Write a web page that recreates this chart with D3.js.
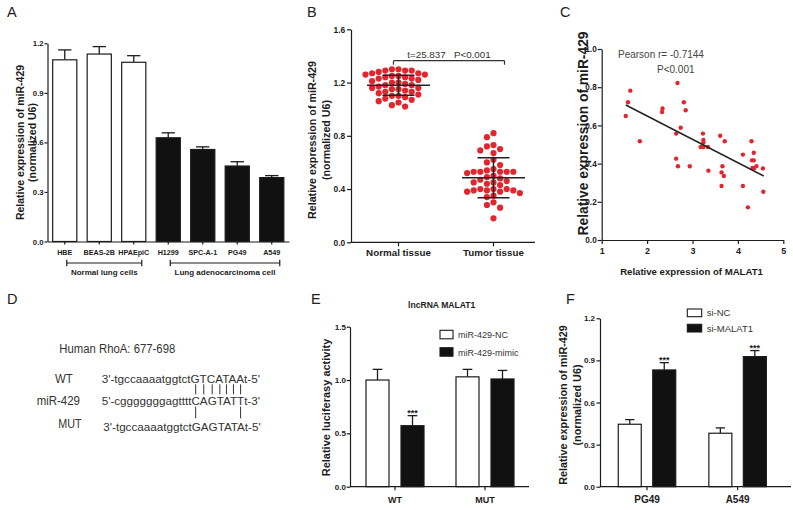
<!DOCTYPE html>
<html><head><meta charset="utf-8">
<script src="https://cdn.jsdelivr.net/npm/d3@7"></script>
<style>body{margin:0;background:#fff}svg{display:block}</style>
</head><body>
<svg id="chart" width="793" height="510"></svg>
<script>
// ---------------- DATA ----------------
// Panel A
const cellLinesA = ["HBE","BEAS-2B","HPAEpiC","H1299","SPC-A-1","PG49","A549"];
const exprA = [1.100, 1.135, 1.085, 0.628, 0.557, 0.457, 0.387];
const errA  = [0.060, 0.045, 0.040, 0.030, 0.016, 0.026, 0.012];
const tumorA = [false,false,false,true,true,true,true];
const groupLabelsA = ["Normal lung cells","Lung adenocarcinoma cell"];
const groupFirstA = ["HBE","H1299"];
const groupLastA  = ["HPAEpiC","A549"];
const yTicksA = [0,0.3,0.6,0.9,1.2];

// Panel B
const tissuesB = ["Normal tissue","Tumor tissue"];
const normalB = [1.30,1.30,1.29,1.29,1.29,1.28,1.27,1.27,1.26,1.26,1.25,1.25,1.24,1.24,1.23,1.23,1.22,1.21,1.20,1.20,1.19,1.18,1.18,1.17,1.16,1.16,1.15,1.15,1.14,1.13,1.13,1.12,1.11,1.10,1.10,1.09,1.08,1.07,1.06,1.05,1.03,1.02];
const tumorB = [0.82,0.79,0.73,0.72,0.70,0.69,0.67,0.62,0.60,0.58,0.55,0.54,0.53,0.53,0.53,0.53,0.53,0.52,0.50,0.49,0.48,0.47,0.46,0.45,0.45,0.44,0.43,0.40,0.40,0.40,0.39,0.39,0.39,0.38,0.38,0.37,0.35,0.34,0.30,0.28,0.26,0.18];
const meanB = [1.18, 0.485];
const sdB = [0.075, 0.15];
const yTicksB = [0,0.4,0.8,1.2,1.6];
const statB = "t=25.837   P<0.001";
const statLevelB = 1.364;

// Panel C
const malat1C = [1.53,1.58,1.63,1.84,2.33,2.34,2.67,2.81,2.85,2.74,2.64,2.64,2.68,2.94,3.23,3.24,3.24,3.18,3.24,3.34,3.35,3.61,3.71,3.66,3.64,3.69,3.64,4.11,4.11,4.22,4.30,4.35,4.31,4.35,4.32,4.36,4.41,4.55,4.56];
const mir429C = [0.649,0.721,0.782,0.517,0.670,0.689,0.822,0.721,0.679,0.588,0.557,0.426,0.386,0.386,0.557,0.524,0.510,0.487,0.487,0.487,0.363,0.546,0.517,0.386,0.354,0.335,0.283,0.447,0.283,0.171,0.517,0.457,0.417,0.417,0.377,0.377,0.387,0.375,0.253];
const fitXC = [1.53, 4.57];
const fitYC = [0.707, 0.335];
const xTicksC = [1,2,3,4,5];
const yTicksC = [0,0.2,0.4,0.6,0.8,1.0];
const statC = ["Pearson r= -0.7144","P<0.001"];

// Panel D
const titleD = "Human RhoA: 677-698";
const seqLabelsD = ["WT","miR-429","MUT"];
const seqsD = ["3'-tgccaaaatggtctGTCATAAt-5'","5'-cgggggggagttttCAGTATTt-3'","3'-tgccaaaatggtctGAGTATAt-5'"];
const pairsUpperD = [17,18,19,20,21,22,23];
const pairsLowerD = [17,23];

// Panel E
const titleE = "lncRNA MALAT1";
const constructsE = ["WT","MUT"];
const seriesE = ["miR-429-NC","miR-429-mimic"];
const ncE = [1.00, 1.03];
const ncErrE = [0.10, 0.07];
const mimicE = [0.572, 1.01];
const mimicErrE = [0.094, 0.08];
const sigE = ["***",""];
const yTicksE = [0,0.5,1.0,1.5];

// Panel F
const cellsF = ["PG49","A549"];
const seriesF = ["si-NC","si-MALAT1"];
const siNCF = [0.445, 0.381];
const siNCErrF = [0.033, 0.038];
const siMalatF = [0.832, 0.927];
const siMalatErrF = [0.052, 0.043];
const sigF = ["***","***"];
const yTicksF = [0,0.3,0.6,0.9,1.2];

// ---------------- DRAWING ----------------
const FONT = "'Liberation Sans', Arial, Helvetica, sans-serif";
const INK = "#1c1c1c";
const RED = "#e3262d";
const svg = d3.select("#chart");
svg.append("rect").attr("width",793).attr("height",510).attr("fill","#fff");

function styleAxis(a, fs){
  a.attr("font-family",FONT).attr("font-size",fs);
  a.select(".domain").attr("stroke",INK).attr("stroke-width",1.2);
  a.selectAll(".tick line").attr("stroke",INK).attr("stroke-width",1.2);
  a.selectAll(".tick text").attr("fill",INK).attr("font-weight","bold");
}
function yAxis(scale, x, ticks, fs, k, p, fmt){
  const a = svg.append("g").attr("transform",`translate(${x},0)`)
    .call(d3.axisLeft(scale).tickValues(ticks).tickFormat(fmt||d3.format(".1f")).tickSize(k).tickPadding(p).tickSizeOuter(0));
  styleAxis(a, fs); return a;
}
function xAxis(axis, y, fs, k, p, x0, x1){
  const a = svg.append("g").attr("transform",`translate(0,${y})`)
    .call(axis.tickSize(k).tickPadding(p).tickSizeOuter(0));
  styleAxis(a, fs);
  if (x0 !== undefined){
    a.select(".domain").remove();
    a.append("line").attr("x1",x0).attr("x2",x1).attr("stroke",INK).attr("stroke-width",1.2);
  }
  return a;
}
function text(x,y,str,fs,opts){
  opts = opts||{};
  const t = svg.append("text").attr("x",x).attr("y",y).text(str)
    .attr("font-family",FONT).attr("font-size",fs)
    .attr("fill",opts.fill||INK)
    .attr("font-weight",opts.bold?"bold":"normal")
    .attr("text-anchor",opts.anchor||"start");
  if (opts.len) t.attr("textLength",opts.len).attr("lengthAdjust","spacingAndGlyphs");
  if (opts.pre) t.style("white-space","pre");
  return t;
}
function yTitle(x, cy, str, fs){
  svg.append("text").attr("transform",`translate(${x},${cy}) rotate(-90)`)
    .attr("dy","0.35em").attr("text-anchor","middle")
    .attr("font-family",FONT).attr("font-size",fs).attr("font-weight","bold")
    .attr("fill",INK).text(str);
}
function errBar(cx, y0, y1, cap){
  svg.append("line").attr("x1",cx).attr("x2",cx).attr("y1",y0).attr("y2",y1)
    .attr("stroke",INK).attr("stroke-width",1.3);
  svg.append("line").attr("x1",cx-cap/2).attr("x2",cx+cap/2).attr("y1",y1).attr("y2",y1)
    .attr("stroke",INK).attr("stroke-width",1.3);
}

// Panel letters
[["A",7,17],["B",307,17],["C",560,17],["D",7,304],["E",311,304],["F",566,304]].forEach(d=>
  text(d[1],d[2],d[0],14.5,{fill:"#222"}));

// ---------- Panel A ----------
const xA = d3.scaleBand().domain(cellLinesA).range([47.5,289]).paddingInner(0.3).paddingOuter(0.15);
const yA = d3.scaleLinear().domain([0,1.2]).range([241.5,43.3]);
cellLinesA.forEach((c,i)=>{
  const cx = xA(c)+xA.bandwidth()/2;
  errBar(cx, yA(exprA[i]), yA(exprA[i]+errA[i]), xA.bandwidth()*0.55);
  svg.append("rect").attr("x",xA(c)).attr("y",yA(exprA[i])).attr("width",xA.bandwidth())
    .attr("height",yA(0)-yA(exprA[i])).attr("fill",tumorA[i]?"#111":"#fff")
    .attr("stroke",INK).attr("stroke-width",1.2);
});
yAxis(yA, 47.5, yTicksA, 7.8, 3, 0.8);
xAxis(d3.axisBottom(xA), 241.5, 7.2, 3, 4.9);
groupLabelsA.forEach((lab,i)=>{
  const x0 = xA(groupFirstA[i])+xA.bandwidth()/2+2;
  const x1 = xA(groupLastA[i])+xA.bandwidth()/2+8;
  const y = 263;
  svg.append("line").attr("x1",x0).attr("x2",x1).attr("y1",y).attr("y2",y).attr("stroke",INK).attr("stroke-width",1.2);
  [x0,x1].forEach(x=>svg.append("line").attr("x1",x).attr("x2",x).attr("y1",y-3.3).attr("y2",y+3.3).attr("stroke",INK).attr("stroke-width",1.2));
  text((x0+x1)/2, 275, lab, 8, {bold:true, anchor:"middle"});
});
yTitle(20, 142.5, "Relative expression of miR-429", 10.5);
yTitle(32, 142.5, "(normalized U6)", 10.5);

// ---------- Panel B ----------
const xB = d3.scaleBand().domain(tissuesB).range([351,541]);
const yB = d3.scaleLinear().domain([0,1.6]).range([242.3,29.3]);
function swarm(values, cx, r, step){
  const placed=[];
  values.slice().sort((a,b)=>b-a).forEach(v=>{
    const y = yB(v);
    for(let i=0;i<60;i++){
      const x = cx + (i%2===0?1:-1)*Math.ceil(i/2)*step;
      if (placed.every(p=>Math.hypot(p.x-x,p.y-y) >= 2*r+0.2)){ placed.push({x,y}); break; }
    }
  });
  return placed;
}
[normalB, tumorB].forEach((vals,i)=>{
  const cx = xB(tissuesB[i]) + xB.bandwidth()/2;
  svg.append("g").selectAll("circle").data(swarm(vals,cx,3.1,6.6)).join("circle")
    .attr("cx",d=>d.x).attr("cy",d=>d.y).attr("r",3.1).attr("fill",RED);
  const m = meanB[i], s = sdB[i];
  const L = (x1,x2,y1,y2)=>svg.append("line").attr("x1",x1).attr("x2",x2).attr("y1",y1).attr("y2",y2).attr("stroke","#222").attr("stroke-width",1.5);
  L(cx-31.5,cx+31.5,yB(m),yB(m));
  L(cx-16,cx+16,yB(m+s),yB(m+s));
  L(cx-16,cx+16,yB(m-s),yB(m-s));
  L(cx,cx,yB(m+s),yB(m-s));
});
yAxis(yB, 351, yTicksB, 8.4, 4, 1.8);
xAxis(d3.axisBottom(xB), 242.3, 9.8, 4, 2.7, 351, 535);
{
  const x0 = xB(tissuesB[0])+xB.bandwidth()/2-5, x1 = xB(tissuesB[1])+xB.bandwidth()/2+11;
  const y = yB(statLevelB);
  svg.append("line").attr("x1",x0).attr("x2",x1).attr("y1",y).attr("y2",y).attr("stroke","#333").attr("stroke-width",1.2);
  [x0,x1].forEach(x=>svg.append("line").attr("x1",x).attr("x2",x).attr("y1",y).attr("y2",y+4).attr("stroke","#333").attr("stroke-width",1.2));
  text((x0+x1)/2, y-2.5, statB, 9.8, {anchor:"middle", pre:true, fill:"#333"});
}
yTitle(312, 140, "Relative expression of miR-429", 10.7);
yTitle(326, 140, "(normalized U6)", 10.7);

// ---------- Panel C ----------
const xC = d3.scaleLinear().domain([1,5]).range([601.7,783.3]);
const yC = d3.scaleLinear().domain([0,1]).range([240,49]);
svg.append("g").selectAll("circle").data(malat1C).join("circle")
  .attr("cx",d=>xC(d)).attr("cy",(d,i)=>yC(mir429C[i])).attr("r",2.2).attr("fill",RED);
svg.append("line").attr("x1",xC(fitXC[0])).attr("x2",xC(fitXC[1]))
  .attr("y1",yC(fitYC[0])).attr("y2",yC(fitYC[1])).attr("stroke","#222").attr("stroke-width",1.5);
yAxis(yC, 601.7, yTicksC, 8.2, 4, 1);
xAxis(d3.axisBottom(xC).tickValues(xTicksC).tickFormat(d3.format("d")), 240, 9, 4, 3.6);
text(618, 57.5, statC[0], 10, {fill:"#444"});
text(657, 72.5, statC[1], 10, {fill:"#444"});
yTitle(583, 133.5, "Relative expression of miR-429", 13.8);
text(691.5, 274.5, "Relative expression of MALAT1", 9.6, {bold:true, anchor:"middle"});

// ---------- Panel D ----------
const DC = "#333";
text(59.3, 352.7, titleD, 12.5, {fill:DC, len:116});
text(55, 382.5, seqLabelsD[0], 12, {fill:DC, len:17.7});
text(36.7, 404.8, seqLabelsD[1], 12, {fill:DC, len:43.3});
text(58.3, 427.5, seqLabelsD[2], 12, {fill:DC, len:23.3});
text(101.7, 382.7, seqsD[0], 11.5, {fill:DC, len:158.3});
const mirNode = text(101.7, 404.8, seqsD[1], 11.5, {fill:DC, len:158.3}).node();
text(103.3, 431.3, seqsD[2], 11.5, {fill:DC, len:157.4});
function charCenter(i){ const e = mirNode.getExtentOfChar(i); return e.x + e.width/2; }
pairsUpperD.forEach(i=>{ const x = charCenter(i);
  svg.append("line").attr("x1",x).attr("x2",x).attr("y1",384.3).attr("y2",394.3).attr("stroke",DC).attr("stroke-width",1); });
pairsLowerD.forEach(i=>{ const x = charCenter(i);
  svg.append("line").attr("x1",x).attr("x2",x).attr("y1",406.7).attr("y2",418.3).attr("stroke",DC).attr("stroke-width",1); });

// ---------- grouped bars helper ----------
function grouped(groups, series, vals, errs, sig, xOuter, yS, innerPadI, innerPadO, capFrac){
  const xi = d3.scaleBand().domain(series).range([0,xOuter.bandwidth()]).paddingInner(innerPadI).paddingOuter(innerPadO);
  groups.forEach((g,gi)=>{
    series.forEach((s,si)=>{
      const v = vals[si][gi], e = errs[si][gi];
      const x = xOuter(g)+xi(s), cx = x+xi.bandwidth()/2;
      errBar(cx, yS(v), yS(v+e), xi.bandwidth()*capFrac);
      svg.append("rect").attr("x",x).attr("y",yS(v)).attr("width",xi.bandwidth()).attr("height",yS(0)-yS(v))
        .attr("fill",si===0?"#fff":"#111").attr("stroke",INK).attr("stroke-width",1.2);
      if (si===1 && sig[gi]) text(cx, yS(v+e)+0.8, sig[gi], 9, {bold:true, anchor:"middle"});
    });
  });
}
function legend(x, ys, labels, w, h, fs){
  labels.forEach((l,i)=>{
    svg.append("rect").attr("x",x).attr("y",ys[i]).attr("width",w).attr("height",h)
      .attr("fill",i===0?"#fff":"#111").attr("stroke",INK).attr("stroke-width",1.1);
    text(x+w+5, ys[i]+h-0.5, l, fs, {fill:"#333"});
  });
}

// ---------- Panel E ----------
const xE = d3.scaleBand().domain(constructsE).range([350,530]);
const yE = d3.scaleLinear().domain([0,1.5]).range([486.7,326.7]);
grouped(constructsE, seriesE, [ncE,mimicE], [ncErrE,mimicErrE], sigE, xE, yE, 0.343, 0.457, 0.42);
yAxis(yE, 350, yTicksE, 8, 3.3, 0.8);
xAxis(d3.axisBottom(xE), 486.7, 9, 3.5, 6.2, 350, 529);
text(441.7, 308, titleE, 8.6, {bold:true, anchor:"middle"});
legend(440, [330.3,347.7], seriesE, 13, 8.5, 9);
yTitle(326, 407.5, "Relative luciferasy activity", 11);

// ---------- Panel F ----------
const xF = d3.scaleBand().domain(cellsF).range([601.7,782.9]);
const yF = d3.scaleLinear().domain([0,1.2]).range([486.7,318.3]);
grouped(cellsF, seriesF, [siNCF,siMalatF], [siNCErrF,siMalatErrF], sigF, xF, yF, 0.333, 0.48, 0.4);
yAxis(yF, 600, yTicksF, 8, 3.5, 1.5);
xAxis(d3.axisBottom(xF), 486.7, 10, 3.5, 5.6, 600, 791);
legend(687.3, [309,324.3], seriesF, 14.4, 7.7, 9.5);
yTitle(563, 405, "Relative expression of miR-429", 10.8);
yTitle(577.7, 405, "(normalized U6)", 10.8);
</script>
</body></html>
